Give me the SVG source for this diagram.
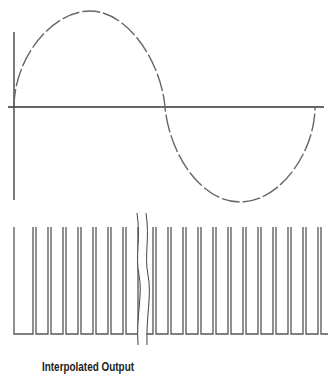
<svg xmlns="http://www.w3.org/2000/svg" width="328" height="381" viewBox="0 0 328 381">
<style>
.axis{stroke:#333;stroke-width:1.3;fill:none}
.sine{stroke:#666;stroke-width:1.4;fill:none;stroke-dasharray:18 3}
.pulse{stroke:#555;stroke-width:1.3;fill:none}
.brk{stroke:#444;stroke-width:1;fill:none}
.lbl{font-family:"Liberation Sans",Arial,sans-serif;font-weight:bold;font-size:13px;fill:#222}
</style>
<rect width="328" height="381" fill="#fff"/>
<g id="axes">
<line class="axis" x1="14" y1="32" x2="14" y2="200"/>
<line class="axis" x1="8" y1="107" x2="324" y2="107"/>
</g>
<g id="sine">
<path class="sine" d="M14,107 C14,58 52,11 90,11 C128,11 161,62 165,107 C169,152 200,202 240,202 C280,202 315,152 315,107"/>
</g>
<g id="pulses">
<path class="pulse" d="M14,227V334H33V227 M36,227V334H48V227 M51,227V334H63V227 M66,227V334H78V227 M81,227V334H93V227 M96,227V334H108V227 M111,227V334H123V227 M126,227V334H138V227 M141,227V334H153V227 M156,227V334H168V227 M171,227V334H183V227 M186,227V334H198V227 M201,227V334H213V227 M216,227V334H228V227 M231,227V334H243V227 M246,227V334H258V227 M261,227V334H273V227 M276,227V334H288V227 M291,227V334H303V227 M306,227V334H318V227 M321,227V334H333V227"/>
</g>
<g id="break">
<path fill="#fff" stroke="none" d="M137,213 C141,240 135,255 139,275 S136,315 138,345 L147,345 C146,315 144,300 148,275 S150,240 146,213 Z"/>
<path class="brk" d="M137,213 C141,240 135,255 139,275 S136,315 138,345"/>
<path class="brk" d="M146,213 C150,240 144,255 148,275 S146,315 147,345"/>
</g>
<g id="label">
<text class="lbl" x="42" y="371" textLength="92" lengthAdjust="spacingAndGlyphs">Interpolated Output</text>
</g>
</svg>
